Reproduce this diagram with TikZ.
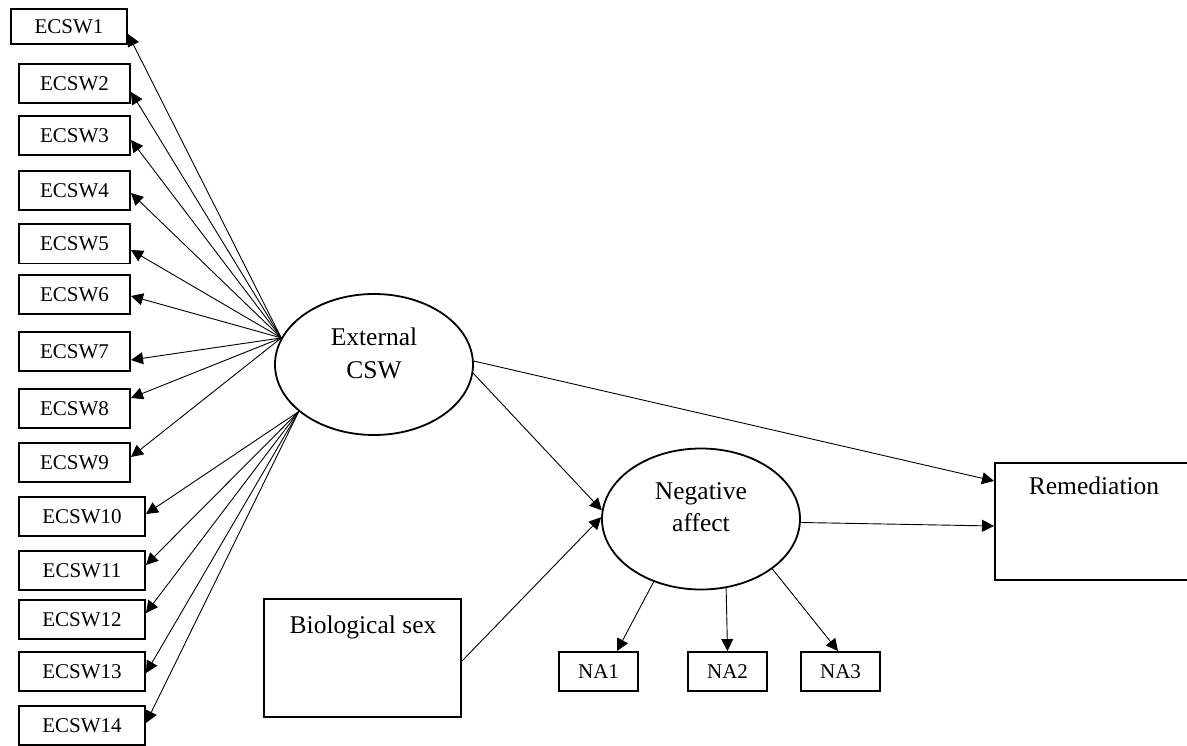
\documentclass[tikz,border=0pt]{standalone}
\usepackage{fontspec}
\setmainfont{Liberation Serif}
\usetikzlibrary{arrows.meta,shapes.geometric}
\tikzset{
  ind/.style={draw, line width=1.6pt, rectangle, inner sep=0pt,
    font=\fontsize{21}{24}\selectfont, text height=14pt, text depth=0pt,
    minimum height=39.4pt},
  indA/.style={ind, minimum width=111.4pt},
  indB/.style={ind, minimum width=126.4pt},
  lat/.style={draw, line width=1.8pt, ellipse, inner sep=0pt,
    minimum width=198pt, minimum height=141pt},
  big/.style={draw, line width=1.6pt, rectangle, inner sep=0pt},
  lbl/.style={font=\fontsize{25.5}{32.5}\selectfont, align=center, inner sep=0pt},
  conn/.style={line width=0.9pt, -{Triangle[length=12pt,width=12pt]}},
}
\begin{document}
\begin{tikzpicture}[x=1pt,y=-1pt]
\useasboundingbox (0,0) rectangle (1187,746);
\clip (0,0) rectangle (1187,746);

% indicator boxes
\node[ind, minimum width=116.4pt, minimum height=35.4pt] (e1) at (69,26.5) {ECSW1};
\node[indA] (e2) at (74.5,83.5) {ECSW2};
\node[indA] (e3) at (74.5,135.5) {ECSW3};
\node[indA] (e4) at (74.5,190.5) {ECSW4};
\node[indA] (e5) at (74.5,244) {ECSW5};
\node[indA] (e6) at (74.5,294.5) {ECSW6};
\node[indA] (e7) at (74.5,351.5) {ECSW7};
\node[indA] (e8) at (74.5,408.5) {ECSW8};
\node[indA] (e9) at (74.5,462.5) {ECSW9};
\node[indB] (e10) at (82,516.5) {ECSW10};
\node[indB] (e11) at (82,570.5) {ECSW11};
\node[indB] (e12) at (82,619.5) {ECSW12};
\node[indB] (e13) at (82,671.5) {ECSW13};
\node[indB] (e14) at (82,725.5) {ECSW14};

% latent variables
\node[lat] (ext) at (374,364.5) {};
\node[lbl] (extT) at (374,353.5) {External\\CSW};
\node[lat] (neg) at (701,519) {};
\node[lbl] (negT) at (701,507) {Negative\\affect};

% observed boxes
\node[big, minimum width=205.2pt, minimum height=117.4pt] (rem) at (1097.4,521.5) {};
\node[lbl] (remT) at (1094,485.3) {Remediation};
\node[big, minimum width=197.4pt, minimum height=118.4pt] (bio) at (362.5,658) {};
\node[lbl] (bioT) at (363,627.1) {Biological sex};

\node[ind, minimum width=79.4pt] (na1) at (598.5,671.5) {NA1};
\node[ind, minimum width=79.4pt] (na2) at (727.5,671.5) {NA2};
\node[ind, minimum width=79.4pt] (na3) at (840.5,671.5) {NA3};

% loading origins on External CSW
\coordinate (up) at (ext.164);
\coordinate (lo) at (ext.212);

\draw[conn] (up) -- ([yshift=-7.5pt]e1.east);
\draw[conn] (up) -- ([yshift=-8.5pt]e2.east);
\draw[conn] (up) -- ([yshift=-4.5pt]e3.east);
\draw[conn] (up) -- ([yshift=-2.5pt]e4.east);
\draw[conn] (up) -- ([yshift=-6pt]e5.east);
\draw[conn] (up) -- ([yshift=-1.5pt]e6.east);
\draw[conn] (up) -- ([yshift=-8.5pt]e7.east);
\draw[conn] (up) -- ([yshift=10.5pt]e8.east);
\draw[conn] (up) -- ([yshift=5.5pt]e9.east);
\draw[conn] (lo) -- ([yshift=2.5pt]e10.east);
\draw[conn] (lo) -- ([yshift=5.5pt]e11.east);
\draw[conn] (lo) -- ([yshift=6.5pt]e12.east);
\draw[conn] (lo) -- ([yshift=-1.5pt]e13.east);
\draw[conn] (lo) -- ([yshift=2.5pt]e14.east);

% structural paths
\draw[conn] (ext.2) -- ([yshift=40.5pt]rem.west);
\draw[conn] (ext.-5) -- (neg.175);
\draw[conn] ([yshift=-3pt]bio.east) -- (neg.179);
\draw[conn] (neg.-2) -- ([yshift=-4.5pt]rem.west);

% negative affect indicators
\draw[conn] (neg.233) -- ([xshift=18.5pt]na1.north);
\draw[conn] (neg.290) -- (na2.north);
\draw[conn] (neg.325) -- ([xshift=-2.5pt]na3.north);
\end{tikzpicture}
\end{document}
